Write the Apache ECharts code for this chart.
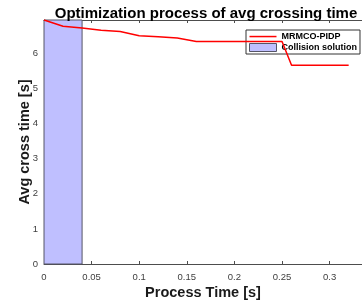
<!DOCTYPE html>
<html>
<head>
<meta charset="utf-8">
<script src="https://cdn.jsdelivr.net/npm/echarts@6/dist/echarts.min.js"></script>
<style>html,body{margin:0;padding:0;background:#fff}#c{width:362px;height:305px}</style>
</head>
<body>
<div id="c"></div>
<script>
var processTime = [0, 0.02, 0.04, 0.06, 0.08, 0.10, 0.12, 0.14, 0.16, 0.18, 0.20, 0.22, 0.24, 0.25, 0.26, 0.28, 0.30, 0.32];
var avgCrossTime = [6.95, 6.77, 6.72, 6.66, 6.62, 6.50, 6.47, 6.44, 6.34, 6.34, 6.34, 6.34, 6.34, 6.34, 5.66, 5.66, 5.66, 5.66];
var collisionRange = [0, 0.04];
var seriesNames = ['MRMCO-PIDP', 'Collision solution'];
var titleText = 'Optimization process of avg crossing time';
var xName = 'Process Time [s]';
var yName = 'Avg cross time [s]';

var chart = echarts.init(document.getElementById('c'), null, {renderer: 'canvas'});
var axisColor = '#4d4d4d';
var labelColor = '#404040';
var font = 'Arial, "Liberation Sans", sans-serif';
var lineData = processTime.map(function (t, i) { return [t, avgCrossTime[i]]; });

chart.setOption({
  animation: false,
  backgroundColor: '#fff',
  title: {
    text: titleText,
    left: 201, top: 1, textAlign: 'center',
    textStyle: {fontFamily: font, fontWeight: 'bold', fontSize: 15, color: '#000'}
  },
  legend: {
    orient: 'vertical',
    left: 246, top: 30,
    padding: [2, 3, 2, 3],
    itemWidth: 27, itemHeight: 8, itemGap: 2,
    backgroundColor: '#fff',
    borderColor: '#333', borderWidth: 1, borderRadius: 0,
    textStyle: {fontFamily: font, fontWeight: 'bold', fontSize: 9, color: '#000'},
    data: [
      {name: seriesNames[0], icon: 'path://M0,0 M0,3.3 L27,3.3 L27,4.8 L0,4.8 Z M27,8', itemStyle: {color: '#ff0000', borderWidth: 0}},
      {name: seriesNames[1], icon: 'rect', itemStyle: {color: '#bfbfff', borderColor: '#555566', borderWidth: 1}}
    ]
  },
  grid: {left: 44, right: 0, top: 20, bottom: 39, containLabel: false},
  xAxis: [{
    type: 'value', min: 0, max: 0.334, interval: 0.05,
    name: xName, nameLocation: 'middle', nameGap: 21, nameMoveOverlap: false,
    nameTextStyle: {fontFamily: font, fontWeight: 'bold', fontSize: 14.5, color: '#1a1a1a'},
    axisLine: {show: true, lineStyle: {color: axisColor, width: 1}},
    axisTick: {show: true, inside: true, length: 3, lineStyle: {color: axisColor}},
    axisLabel: {fontFamily: font, fontSize: 9.5, color: labelColor, margin: 8, showMaxLabel: false,
      formatter: function (v) { return String(Math.round(v * 100) / 100); }},
    splitLine: {show: false}
  }, {
    type: 'value', position: 'top', min: 0, max: 0.334, interval: 0.05,
    axisLine: {show: true, onZero: false, lineStyle: {color: axisColor, width: 1}},
    axisTick: {show: true, inside: true, length: 3, lineStyle: {color: axisColor}},
    axisLabel: {show: false},
    splitLine: {show: false}
  }],
  yAxis: {
    type: 'value', min: 0, max: 6.95, interval: 1,
    name: yName, nameLocation: 'middle', nameGap: 12, nameMoveOverlap: false,
    nameTextStyle: {fontFamily: font, fontWeight: 'bold', fontSize: 14.5, color: '#1a1a1a'},
    axisLine: {show: true, lineStyle: {color: axisColor, width: 1}},
    axisTick: {show: true, inside: true, length: 3, lineStyle: {color: axisColor}},
    axisLabel: {fontFamily: font, fontSize: 9.5, color: labelColor, margin: 6, showMaxLabel: false},
    splitLine: {show: false}
  },
  series: [{
    name: seriesNames[0],
    type: 'line',
    data: lineData,
    symbol: 'none',
    z: 5,
    lineStyle: {color: '#ff0000', width: 1.5},
    itemStyle: {color: '#ff0000'}
  }, {
    name: seriesNames[1],
    type: 'line',
    data: [],
    z: 1,
    itemStyle: {color: '#bfbfff', borderColor: '#555566'},
    markArea: {
      silent: true,
      itemStyle: {color: '#bfbfff', borderColor: '#555566', borderWidth: 1, opacity: 1},
      data: [[{xAxis: collisionRange[0]}, {xAxis: collisionRange[1]}]]
    }
  }]
});
</script>
</body>
</html>
